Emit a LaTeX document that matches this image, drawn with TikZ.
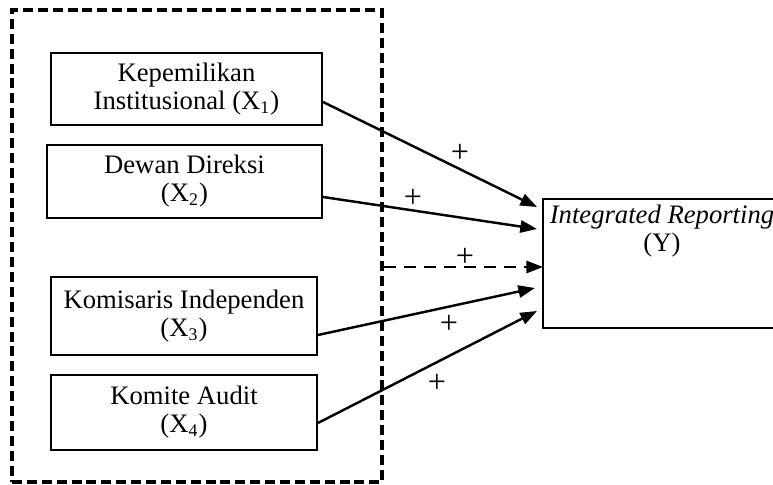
\documentclass[tikz,border=0pt]{standalone}
\usepackage{fontspec}
\setmainfont{Liberation Serif}
\usetikzlibrary{arrows.meta,calc}

\tikzset{
  box/.style={draw, line width=0.9pt, align=center, inner sep=0pt,
    font=\fontsize{12}{12.6}\selectfont},
  grp/.style={draw, line width=1.6pt, dash pattern=on 4.5pt off 2.2pt},
  arr/.style={line width=1.1pt, -{Triangle[length=7.5pt,width=5.5pt]}},
  dasharr/.style={arr, dash pattern=on 5.5pt off 3.5pt},
  sign/.style={font=\fontsize{14.5}{14.5}\selectfont, inner sep=0pt}
}

\begin{document}
\begin{tikzpicture}[x=0.45pt, y=-0.45pt]
    % 1 px = 0.45pt, picture 773 x 485 px
    \useasboundingbox (0, 0) rectangle (773, 485);

    % dashed group round X1..X4
    \node[grp, minimum width=166.5pt, minimum height=212.4pt] (grp) at (197, 246) {};

    % independent variables
    \node[box, minimum width=122pt, minimum height=32.4pt] (k1) at (186.5, 89)
        {Kepemilikan\\Institusional (X\textsubscript{1})};
    \node[box, minimum width=123.8pt, minimum height=32.9pt] (k2) at (184.5, 181.5)
        {Dewan Direksi\\(X\textsubscript{2})};
    \node[box, minimum width=119.7pt, minimum height=35.1pt] (k3) at (184, 316)
        {Komisaris Independen\\(X\textsubscript{3})};
    \node[box, minimum width=119.7pt, minimum height=33.75pt] (k4) at (184, 412.5)
        {Komite Audit\\(X\textsubscript{4})};

    % dependent variable
    \node[box, minimum width=107.1pt, minimum height=58.05pt] (yb) at (662, 263.5) {};
    \node[box, draw=none, anchor=north] (ylab) at (662, 204)
        {\textit{Integrated Reporting}\\(Y)};

    % arrow ends
    \coordinate (t1) at (537, 207);
    \coordinate (t2) at (537, 229);
    \coordinate (t3) at (543, 267);
    \coordinate (t4) at (535, 288);
    \coordinate (t5) at (537, 311);

    \draw[arr] ($(k1.east)+(0, 13)$) -- (t1);
    \draw[arr] ($(k2.east)+(0, 15.5)$) -- (t2);
    \draw[dasharr] (grp.east |- t3) -- (t3);
    \draw[arr] ($(k3.east)+(0, 19)$) -- (t4);
    \draw[arr] ($(k4.east)+(0, 10.5)$) -- (t5);

    % signs
    \node[sign] (s1) at (460, 153) {+};
    \node[sign] (s2) at (413, 198) {+};
    \node[sign] (s3) at (465, 257) {+};
    \node[sign] (s4) at (449, 324) {+};
    \node[sign] (s5) at (437, 383) {+};
\end{tikzpicture}
\end{document}
